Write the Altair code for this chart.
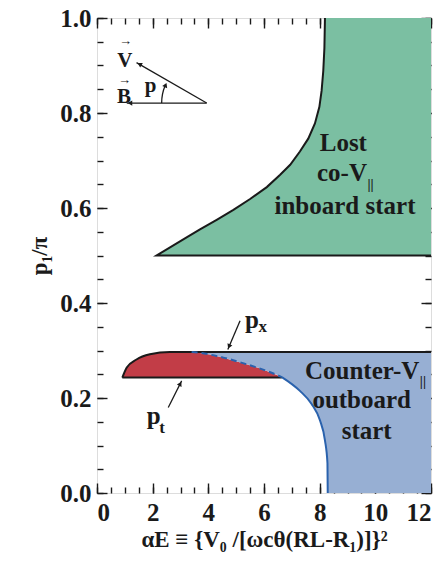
import altair as alt
import pandas as pd

# ---- data ----
# boundary of the "lost co-V|| inboard start" region
green_x = [2.14, 3.22, 3.70, 4.30, 4.90, 5.50, 6.10, 6.58, 6.94, 7.29, 7.59, 7.83, 7.99, 8.07, 8.13, 8.17, 8.19]
green_y = [0.500, 0.538, 0.555, 0.575, 0.596, 0.619, 0.644, 0.670, 0.691, 0.719, 0.746, 0.778, 0.813, 0.847, 0.889, 0.937, 1.000]
green_base = 0.5

# left cap of the trapped (red) region, black outline
cap_x = [0.91, 1.07, 1.42, 1.90, 2.62]
cap_y = [0.243, 0.264, 0.281, 0.292, 0.297]
px_level = 0.297
pt_level = 0.243

# dashed blue boundary (inside the band) and solid blue boundary (below p_t)
dash_x = [3.40, 3.70, 4.54, 5.38, 6.10, 6.64]
dash_y = [0.297, 0.295, 0.285, 0.271, 0.257, 0.244]
solid_x = [6.64, 7.29, 7.71, 8.01, 8.19, 8.28, 8.29]
solid_y = [0.244, 0.215, 0.1875, 0.153, 0.111, 0.0625, 0.0]

x_max = 12.0
x_major = [0, 2, 4, 6, 8, 10, 12]
x_minor = [i * 0.5 for i in range(25)]
y_major = [0.0, 0.2, 0.4, 0.6, 0.8, 1.0]
y_minor = [round(i * 0.05, 2) for i in range(21)]

FONT = "Liberation Serif"
INK = "#1a1a1a"
GREEN = "#7bbfa2"
RED = "#c23d47"
BLUE = "#97afd3"
BLUE_LINE = "#2a62ad"

# ---- tables ----
green_area = pd.DataFrame({"x": green_x + [x_max], "y": green_y + [1.0]})
green_area["y2"] = green_base
green_line = pd.DataFrame({"x": [x_max] + green_x, "y": [green_base] + green_y})
green_line["i"] = range(len(green_line))

red_top_x = cap_x + dash_x[1:]
red_top_y = cap_y + dash_y[1:]
red_area = pd.DataFrame({"x": red_top_x, "y": red_top_y})
red_area["y2"] = pt_level

blue_x = dash_x + solid_x[1:] + [x_max]
blue_y = dash_y + solid_y[1:] + [0.0]
blue_area = pd.DataFrame({"x": blue_x, "y": blue_y})
blue_area["y2"] = px_level

cap_line = pd.DataFrame({"x": cap_x + [x_max], "y": cap_y + [px_level]})
cap_line["i"] = range(len(cap_line))
pt_line = pd.DataFrame({"x": [cap_x[0], dash_x[-1]], "y": [pt_level, pt_level]})
dash_line = pd.DataFrame({"x": dash_x, "y": dash_y})
solid_line = pd.DataFrame({"x": solid_x, "y": solid_y})

X = [0, 12]
Y = [0, 1]


def xs(axis):
    return alt.X("x:Q", scale=alt.Scale(domain=X, nice=False, zero=False), axis=axis)


def ys(axis):
    return alt.Y("y:Q", scale=alt.Scale(domain=Y, nice=False, zero=False), axis=axis)


def tick_axis(orient, values, size):
    return alt.Axis(orient=orient, values=values, labels=False, domain=False, grid=False,
                    ticks=True, tickSize=size, offset=-size, tickColor=INK, tickWidth=1.4,
                    title=None)


x_label_axis = alt.Axis(orient="bottom", values=x_major, format="d", ticks=False, domain=False,
                        grid=False, labelFont=FONT, labelFontSize=25, labelFontWeight="bold",
                        labelColor=INK, labelPadding=7,
                        title="αE ≡ {V₀ /[ωcθ(RL-R₁)]}²", titleFont=FONT, titleFontSize=23,
                        titleFontWeight="bold", titleColor=INK, titlePadding=3)
y_label_axis = alt.Axis(orient="left", values=y_major, format=".1f", ticks=False, domain=False,
                        grid=False, labelFont=FONT, labelFontSize=25, labelFontWeight="bold",
                        labelColor=INK, labelPadding=6,
                        title="p₁/π", titleFont=FONT, titleFontSize=23, titleFontWeight="bold",
                        titleColor=INK, titlePadding=8)

g_area = alt.Chart(green_area).mark_area(color=GREEN, opacity=1).encode(
    x=xs(x_label_axis), y=ys(y_label_axis), y2="y2:Q")
r_area = alt.Chart(red_area).mark_area(color=RED, opacity=1, interpolate="monotone").encode(
    x=xs(tick_axis("bottom", x_major, 10)), y=ys(tick_axis("left", y_major, 10)), y2="y2:Q")
b_area = alt.Chart(blue_area).mark_area(color=BLUE, opacity=1, interpolate="monotone").encode(
    x=xs(tick_axis("bottom", x_minor, 6)), y=ys(tick_axis("left", y_minor, 6)), y2="y2:Q")

g_line = alt.Chart(green_line).mark_line(color=INK, strokeWidth=2).encode(
    x=xs(tick_axis("top", x_major, 10)), y=ys(tick_axis("right", y_major, 10)), order="i:Q")
c_line = alt.Chart(cap_line).mark_line(color=INK, strokeWidth=2, interpolate="monotone").encode(
    x=xs(tick_axis("top", x_minor, 6)), y=ys(tick_axis("right", y_minor, 6)), order="i:Q")
t_line = alt.Chart(pt_line).mark_line(color=INK, strokeWidth=2).encode(
    x=xs(None), y=ys(None))
d_line = alt.Chart(dash_line).mark_line(color=BLUE_LINE, strokeWidth=2, strokeDash=[6, 4],
                                        interpolate="monotone").encode(x=xs(None), y=ys(None))
s_line = alt.Chart(solid_line).mark_line(color=BLUE_LINE, strokeWidth=2,
                                         interpolate="monotone").encode(x=xs(None), y=ys(None))

# ---- annotations ----
shafts = pd.DataFrame({
    "x": [3.94, 3.94, 5.14, 2.56],
    "y": [0.821, 0.821, 0.3625, 0.180],
    "x2": [1.42, 1.07, 4.70, 3.04],
    "y2": [0.906, 0.821, 0.302, 0.236],
})
heads = pd.DataFrame({
    "x": [1.552, 1.211, 4.754, 2.979, 2.454],
    "y": [0.902, 0.821, 0.310, 0.2285, 0.8575],
    "a": [300, 270, 203, 27, 23],
})
rules = alt.Chart(shafts).mark_rule(color=INK, strokeWidth=1.3).encode(
    x=xs(None), y=ys(None), x2="x2:Q", y2="y2:Q")
arrowheads = alt.Chart(heads).mark_point(shape="triangle", filled=True, color=INK, size=28,
                                         opacity=1).encode(
    x=xs(None), y=ys(None), angle=alt.Angle("a:Q", scale=None))
arc = alt.Chart(pd.DataFrame({"x": [3.94], "y": [0.821]})).mark_arc(
    filled=False, stroke=INK, strokeWidth=1.3, fill=None, outerRadius=45, innerRadius=45,
    theta=4.712, theta2=5.11).encode(x=xs(None), y=ys(None))

texts = pd.DataFrame({
    "x": [8.85, 9.70, 8.91, 11.58, 9.51, 9.69, 5.32, 1.79, 1.0, 0.97, 1.72],
    "y": [0.719, 0.657, 0.588, 0.241, 0.178, 0.113, 0.347, 0.146, 0.897, 0.822, 0.844],
    "t": ["Lost", "co-V", "inboard start", "Counter-V", "outboard", "start", "p", "p", "V", "B", "p"],
    "s": [25, 25, 25, 25, 25, 25, 25, 25, 21, 21, 21],
    "al": ["center", "right", "center", "right", "center", "center", "left", "left", "center", "center", "left"],
})
small = pd.DataFrame({
    "x": [9.72, 11.60, 5.80, 2.24],
    "y": [0.640, 0.226, 0.338, 0.126],
    "t": ["||", "||", "x", "t"],
    "s": [14, 14, 17, 17],
})
vec_arrows = pd.DataFrame({
    "x": [1.02, 0.99],
    "y": [0.943, 0.862],
    "t": ["→", "→"],
    "s": [13, 13],
})


def text_layer(df, align):
    return alt.Chart(df).mark_text(font=FONT, fontWeight="bold", color=INK, baseline="alphabetic",
                                   align=align).encode(
        x=xs(None), y=ys(None), text="t:N", size=alt.Size("s:Q", scale=None))


txt_c = text_layer(texts[texts.al == "center"], "center")
txt_r = text_layer(texts[texts.al == "right"], "right")
txt_l = text_layer(texts[texts.al == "left"], "left")
txt_s = text_layer(small, "left")
txt_v = text_layer(vec_arrows, "center")

chart = alt.layer(
    g_area, r_area, b_area, g_line, c_line, t_line, d_line, s_line,
    rules, arrowheads, arc, txt_c, txt_r, txt_l, txt_s, txt_v
).resolve_axis(x="independent", y="independent").properties(
    width=334, height=475,
    autosize=alt.AutoSizeParams(type="none"),
    padding={"left": 89, "top": 10, "right": 8, "bottom": 62},
).configure_view(stroke=INK, strokeWidth=1.6).configure(background="white")

chart.save("out.html", embed_options={"renderer": "svg", "actions": False})
